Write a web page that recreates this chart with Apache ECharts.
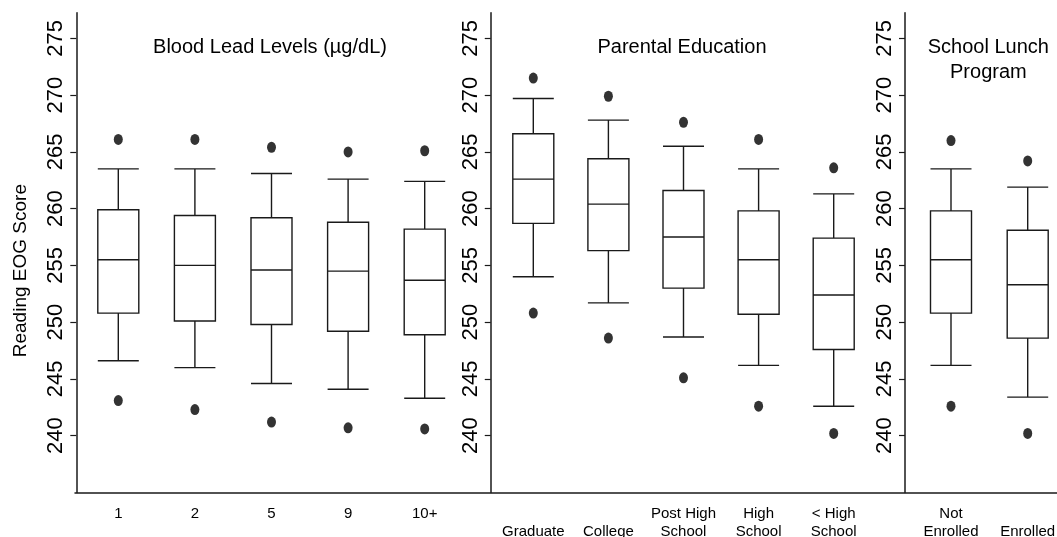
<!DOCTYPE html>
<html>
<head>
<meta charset="utf-8">
<script src="https://cdn.jsdelivr.net/npm/echarts@6/dist/echarts.min.js"></script>
<style>html,body{margin:0;padding:0;background:#fff}#c{width:1057px;height:537px}</style>
</head>
<body>
<div id="c"></div>
<script>
// ---- Data ----
var leadCats = ['1', '2', '5', '9', '10+'];
var leadBox = [
  [246.6, 250.8, 255.5, 259.9, 263.5],
  [246.0, 250.1, 255.0, 259.4, 263.5],
  [244.6, 249.8, 254.6, 259.2, 263.1],
  [244.1, 249.2, 254.5, 258.8, 262.6],
  [243.3, 248.9, 253.7, 258.2, 262.4]
];
var leadOutHigh = [266.1, 266.1, 265.4, 265.0, 265.1];
var leadOutLow = [243.1, 242.3, 241.2, 240.7, 240.6];

var eduCats = ['\nGraduate', '\nCollege', 'Post High\nSchool', 'High\nSchool', '< High\nSchool'];
var eduBox = [
  [254.0, 258.7, 262.6, 266.6, 269.7],
  [251.7, 256.3, 260.4, 264.4, 267.8],
  [248.7, 253.0, 257.5, 261.6, 265.5],
  [246.2, 250.7, 255.5, 259.8, 263.5],
  [242.6, 247.6, 252.4, 257.4, 261.3]
];
var eduOutHigh = [271.5, 269.9, 267.6, 266.1, 263.6];
var eduOutLow = [250.8, 248.6, 245.1, 242.6, 240.2];

var lunchCats = ['Not\nEnrolled', '\nEnrolled'];
var lunchBox = [
  [246.2, 250.8, 255.5, 259.8, 263.5],
  [243.4, 248.6, 253.3, 258.1, 261.9]
];
var lunchOutHigh = [266.0, 264.2];
var lunchOutLow = [242.6, 240.2];

var yTicks = [240, 245, 250, 255, 260, 265, 270, 275];
var panelTitles = ['Blood Lead Levels (µg/dL)', 'Parental Education', 'School Lunch\nProgram'];
var yTitle = 'Reading EOG Score';

// ---- Chart ----
var FONT = 'Liberation Sans, Arial, Helvetica, sans-serif';
var LINE = '#1a1a1a';
var panels = [
  {cats: leadCats, box: leadBox, hi: leadOutHigh, lo: leadOutLow, left: 80, width: 383, offset: 3.7},
  {cats: eduCats, box: eduBox, hi: eduOutHigh, lo: eduOutLow, left: 495.75, width: 375.5, offset: 5},
  {cats: lunchCats, box: lunchBox, hi: lunchOutHigh, lo: lunchOutLow, left: 912.65, width: 153.4, offset: 7.65}
];
var TOP = 12.8, BOTTOM = 44.5;

var grids = [], xAxes = [], yAxes = [], series = [], titles = [];
panels.forEach(function (p, i) {
  grids.push({left: p.left, width: p.width, top: TOP, bottom: BOTTOM, containLabel: false, outerBoundsMode: 'none'});
  xAxes.push({
    type: 'category', gridIndex: i, data: p.cats, boundaryGap: true,
    axisLine: {show: false}, axisTick: {show: false}, splitLine: {show: false},
    axisLabel: {color: '#000', fontFamily: FONT, fontSize: 15, lineHeight: 18, margin: 12, interval: 0}
  });
  yAxes.push({
    type: 'value', gridIndex: i, min: 235, max: 277.25, interval: 5, offset: p.offset,
    name: i === 0 ? yTitle : '', nameLocation: 'middle', nameGap: 46, nameRotate: 90,
    nameTextStyle: {color: '#000', fontFamily: FONT, fontSize: 19, padding: [0, 36, 0, 0]},
    axisLine: {show: true, lineStyle: {color: LINE, width: 1.5}},
    axisTick: {show: true, length: 6, customValues: yTicks, lineStyle: {color: LINE, width: 1.2}},
    axisLabel: {show: true, rotate: 90, customValues: yTicks, color: '#000', fontFamily: FONT, fontSize: 22, margin: 9},
    splitLine: {show: false}
  });
  series.push({
    type: 'boxplot', xAxisIndex: i, yAxisIndex: i, data: p.box,
    boxWidth: [41, 41],
    itemStyle: {color: '#fff', borderColor: LINE, borderWidth: 1.4},
    emphasis: {disabled: true}, silent: true
  });
  var outs = [];
  p.hi.forEach(function (v, k) { outs.push([k, v]); });
  p.lo.forEach(function (v, k) { outs.push([k, v]); });
  series.push({
    type: 'scatter', xAxisIndex: i, yAxisIndex: i, data: outs,
    symbol: 'circle', symbolSize: [9, 11], itemStyle: {color: '#000'}, silent: true
  });
  titles.push({
    text: panelTitles[i], left: p.left + p.width / 2 - (i === 2 ? 1 : 1.5), top: 35, textAlign: 'center', padding: 0,
    textStyle: {color: '#000', fontFamily: FONT, fontSize: 20, fontWeight: 'normal', lineHeight: 25}
  });
});
// full-width baseline axis
grids.push({left: 75, right: 0, top: TOP, bottom: BOTTOM, containLabel: false, outerBoundsMode: 'none'});
xAxes.push({type: 'value', gridIndex: 3, min: 0, max: 1, axisLine: {show: true, lineStyle: {color: LINE, width: 1.5}},
  axisTick: {show: false}, axisLabel: {show: false}, splitLine: {show: false}});
yAxes.push({type: 'value', gridIndex: 3, show: false});

var chart = echarts.init(document.getElementById('c'), null, {renderer: 'canvas'});
chart.setOption({
  animation: false,
  backgroundColor: '#fff',
  title: titles,
  grid: grids,
  xAxis: xAxes,
  yAxis: yAxes,
  series: series
});
</script>
</body>
</html>
